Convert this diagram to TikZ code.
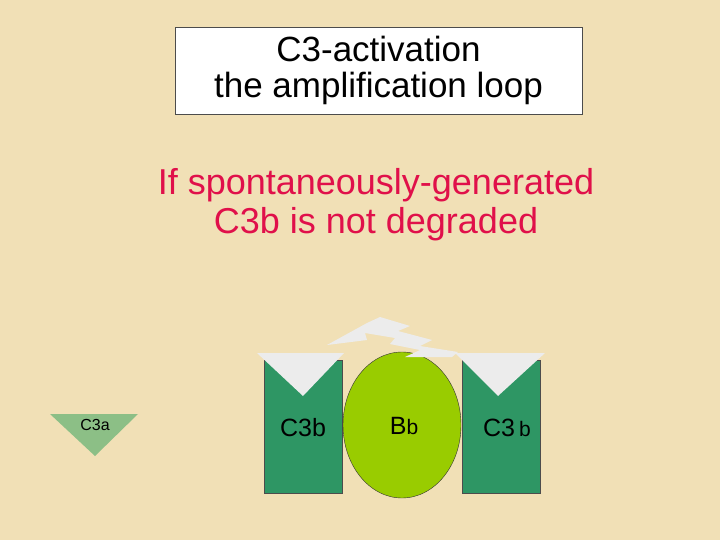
\documentclass[tikz,border=0pt]{standalone}
\usepackage{fontspec}
\setmainfont{Liberation Sans}
\begin{document}
\begin{tikzpicture}[x=1pt,y=-1pt,
 lbl/.style={font=\fontsize{25}{27}\selectfont}]
\definecolor{bg}{HTML}{F1E0B6}
\definecolor{dgreen}{HTML}{2E9664}
\definecolor{lgreen}{HTML}{99CC00}
\definecolor{notch}{HTML}{ECECEC}
\definecolor{ttl}{HTML}{E0104A}
\definecolor{c3acol}{HTML}{8CBF86}
\fill[bg] (0,0) rectangle (720,540);
\useasboundingbox (0,0) rectangle (720,540);
\node[draw=black!70, fill=white, minimum width=407pt, minimum height=87pt, align=center, font=\fontsize{35}{36}\selectfont, inner sep=0pt] (title) at (378.5,70.5) {C3-activation\\the amplification loop};
\node[align=center, text=ttl, font=\fontsize{36}{39}\selectfont] (sub) at (376,205) {If spontaneously-generated\\C3b is not degraded};
% C3a
\fill[c3acol] (50,414) -- (138,414) -- (95,456) -- cycle;
\node[font=\fontsize{16}{18}\selectfont] (c3a) at (95,425) {C3a};
% left C3b
\fill[dgreen] (264,360) rectangle (342,493);
\draw[black!70] (264,360) rectangle (342,493);
\fill[notch] (257,353) -- (344,353) -- (303,396) -- cycle;
\node[lbl] (c3b1) at (303,428) {C3b};
% right C3b
\fill[dgreen] (462,360) rectangle (540,493);
\draw[black!70] (462,360) rectangle (540,493);
\fill[notch] (455,353) -- (545,353) -- (498,396) -- cycle;
\node[lbl] (c3b2) at (507,428) {C3\,{\fontsize{21}{22}\selectfont b}};
% Bb
\draw[fill=lgreen, draw=black!80] (402,425) ellipse [x radius=59, y radius=73];
\node[lbl] (bb) at (404,426) {B{\fontsize{21}{22}\selectfont b}};
% lightning
\fill[notch] (327,345) -- (367,323) -- (380,317) -- (410,326) -- (398,331) -- (432,340) -- (420,346) -- (458,352) -- (452,357) -- (405,357) -- (420,350) -- (390,344) -- (395,338) -- (365,333) -- (367,340) -- cycle;
\end{tikzpicture}
\end{document}
